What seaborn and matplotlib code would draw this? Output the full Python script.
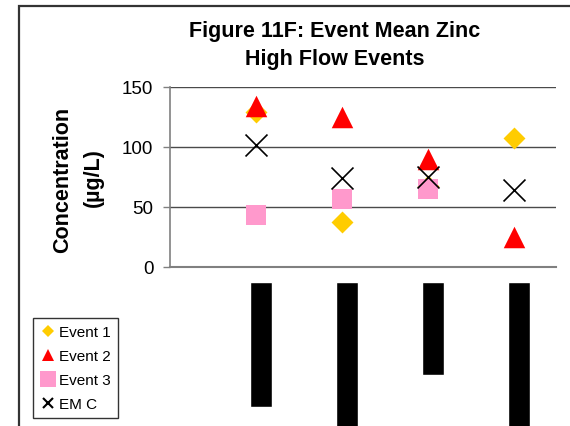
import numpy as np
import matplotlib
matplotlib.use("Agg")
import matplotlib.pyplot as plt
import seaborn as sns
from matplotlib.lines import Line2D
from matplotlib.patches import Rectangle

# Sampling sites (x positions) and event mean zinc concentrations (ug/L)
sites = [1, 2, 3, 4]
event_1 = [129, 37, 67.5, 107]
event_2 = [133.5, 124.5, 90, 25]
event_3 = [43, 56, 64.5, np.nan]
emc = [101.5, 73.5, 75, 64]

# Depth of the dark site-label blocks hanging below the zero line
label_depth = [104, 140, 77.5, 140]

series_names = ["Event 1", "Event 2", "Event 3", "EM C"]
y_ticks = [0, 50, 100, 150]

sns.set_theme(style="white", rc={"text.color": "black",
                                 "axes.labelcolor": "black",
                                 "ytick.color": "black"})
plt.rcParams["font.family"] = ["Liberation Sans", "DejaVu Sans"]

fig = plt.figure(figsize=(5.7, 4.27), dpi=100)
fig.patch.set_facecolor("white")
ax = fig.add_axes([0.2982, 0.3735, 0.6772, 0.4211])

styles = [
    (event_1, "D", "#FFCC00", 125),
    (event_2, "^", "#FF0000", 240),
    (event_3, "s", "#FF99CC", 205),
]
for vals, marker, color, size in styles:
    sns.scatterplot(x=sites, y=vals, marker=marker, color=color, s=size,
                    linewidth=0, ax=ax, zorder=3, legend=False)
sns.scatterplot(x=sites, y=emc, marker="x", color="black", s=250,
                linewidth=1.2, ax=ax, zorder=4, legend=False)

# site label blocks below the axis
ax.bar([p + 0.06 for p in sites], [-d for d in label_depth], bottom=-13,
       width=0.256, color="black", clip_on=False, zorder=2)

ax.set_xlim(0, 4.49)
ax.set_ylim(0, 150)
ax.set_xticks([])
ax.set_yticks(y_ticks)
ax.set_yticklabels([str(t) for t in y_ticks], fontsize=13.5, color="black")
ax.tick_params(axis="y", direction="out", length=5, width=1, color="#808080",
               labelcolor="black", pad=7, left=True)
for t in [50, 100, 150]:
    ax.axhline(t, color="#4a4a4a", lw=1, zorder=1)
for side in ["top", "right"]:
    ax.spines[side].set_visible(False)
ax.spines["left"].set_color("#808080")
ax.spines["left"].set_linewidth(1.2)
ax.spines["bottom"].set_color("#808080")
ax.spines["bottom"].set_linewidth(1.5)
ax.set_xlabel("")
ax.set_ylabel("")

# titles
fig.text(335 / 570, 1 - 36.7 / 427, "Figure 11F: Event Mean Zinc",
         ha="center", va="baseline", fontsize=15.5, fontweight="bold",
         color="black")
fig.text(335 / 570, 1 - 65 / 427, "High Flow Events",
         ha="center", va="baseline", fontsize=15.5, fontweight="bold",
         color="black")

# y-axis label
fig.text(63 / 570, 1 - 180 / 427, "Concentration", rotation=90,
         ha="center", va="center", fontsize=15.5, fontweight="bold",
         color="black")
fig.text(93 / 570, 1 - 178 / 427, "(\u00b5g/L)", rotation=90,
         ha="center", va="center", fontsize=15.5, fontweight="bold",
         color="black")

# legend
handles = [
    Line2D([], [], marker="D", color="#FFCC00", ls="none", ms=6.5, mew=0),
    Line2D([], [], marker="^", color="#FF0000", ls="none", ms=8, mew=0),
    Line2D([], [], marker="s", color="#FF99CC", ls="none", ms=11, mew=0),
    Line2D([], [], marker="x", color="black", ls="none", ms=6.5, mew=1.5),
]
leg = fig.legend(handles, series_names, loc="lower left",
                 bbox_to_anchor=(33 / 570, 1 - 419 / 427),
                 bbox_transform=fig.transFigure, fontsize=11, frameon=True,
                 fancybox=False, edgecolor="#333333", framealpha=1,
                 borderpad=0.45, labelspacing=0.65, handlelength=1.0,
                 handletextpad=0.25, borderaxespad=0)
leg.get_frame().set_linewidth(1.0)
for txt in leg.get_texts():
    txt.set_color("black")

# outer chart frame
fig.add_artist(Rectangle((19 / 570, -0.5), 2, 0.5 + 1 - 7 / 427,
                         transform=fig.transFigure, fill=False,
                         ec="#333333", lw=1.6))

fig.savefig("out.png", dpi=100, facecolor="white")
